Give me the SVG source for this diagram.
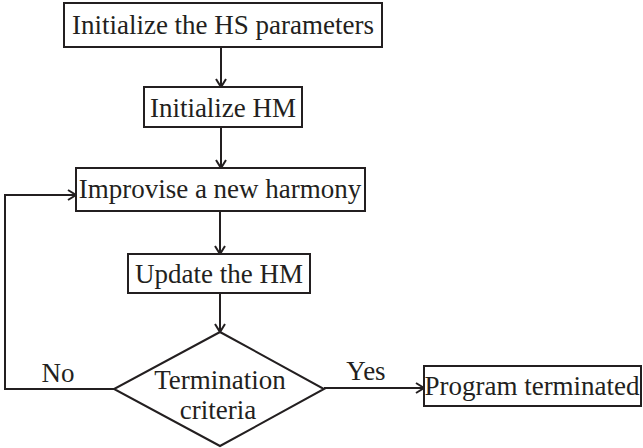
<svg xmlns="http://www.w3.org/2000/svg" width="643" height="448" viewBox="0 0 643 448">
<defs>
<marker id="arr" markerWidth="12" markerHeight="12" refX="10" refY="6" orient="auto" markerUnits="userSpaceOnUse">
<path d="M2,1 L10,6 L2,11" fill="none" stroke="#231f20" stroke-width="2"/>
</marker>
</defs>
<style>
.box{fill:#fff;stroke:#231f20;stroke-width:2}
.t{font-family:"Liberation Serif","Times New Roman",serif;font-size:27px;fill:#231f20;text-anchor:middle}
.c{fill:none;stroke:#231f20;stroke-width:2;marker-end:url(#arr)}
.l{fill:none;stroke:#231f20;stroke-width:2}
</style>
<rect width="643" height="448" fill="#fff"/>
<g id="connectors">
<line class="c" x1="221" y1="47" x2="221" y2="87"/>
<line class="c" x1="221" y1="127" x2="221" y2="168"/>
<line class="c" x1="220" y1="211" x2="220" y2="254"/>
<line class="c" x1="220" y1="293" x2="220" y2="332"/>
<polyline class="c" points="114,389 5,389 5,195 76,195"/>
<line class="c" x1="324" y1="388" x2="424" y2="388"/>
<text class="t" x="58" y="382">No</text>
<text class="t" x="366" y="380">Yes</text>
</g>
<g id="n1"><rect class="box" x="64" y="3" width="318" height="44"/><text class="t" x="223" y="34">Initialize the HS parameters</text></g>
<g id="n2"><rect class="box" x="144" y="87" width="158" height="40"/><text class="t" x="223" y="117">Initialize HM</text></g>
<g id="n3"><rect class="box" x="76" y="168" width="289" height="43"/><text class="t" x="220" y="198">Improvise a new harmony</text></g>
<g id="n4"><rect class="box" x="128" y="254" width="182" height="39"/><text class="t" x="219" y="283">Update the HM</text></g>
<g id="n5"><polygon class="box" points="220,332 324,389 220,446 114,389"/><text class="t" x="220" y="389">Termination</text><text class="t" x="218" y="419">criteria</text></g>
<g id="n6"><rect class="box" x="424" y="366" width="217" height="40"/><text class="t" x="532" y="395">Program terminated</text></g>
</svg>
